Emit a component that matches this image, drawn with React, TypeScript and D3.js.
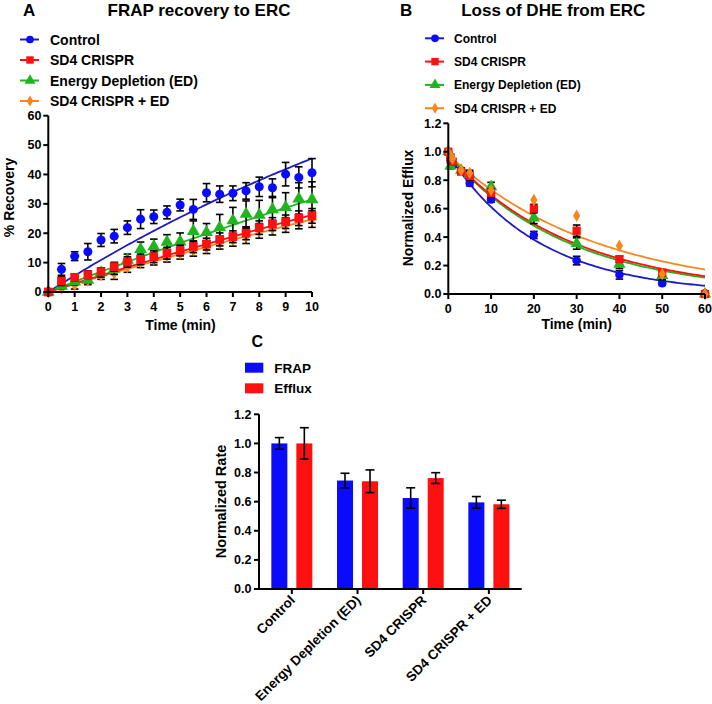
import React from "react";
import * as d3 from "d3";

// ---------- Panel A data ----------
const timesA = [0, 0.5, 1, 1.5, 2, 2.5, 3, 3.5, 4, 4.5, 5, 5.5, 6, 6.5, 7, 7.5, 8, 8.5, 9, 9.5, 10];
const controlA = [0, 7.7, 12.2, 13.7, 17.7, 19.0, 21.9, 24.8, 25.6, 27.1, 29.6, 28.1, 33.8, 33.3, 33.6, 34.4, 35.8, 35.5, 40.1, 39.0, 40.6];
const controlAErr = [0, 2.0, 1.5, 2.8, 2.2, 2.3, 2.3, 3.2, 2.3, 2.2, 2.0, 3.4, 3.1, 2.8, 2.5, 2.8, 3.3, 3.0, 4.0, 3.6, 4.8];
const sd4A = [0, 3.7, 5.0, 5.9, 6.9, 8.6, 10.2, 11.1, 12.0, 13.2, 14.1, 15.4, 16.3, 17.9, 18.8, 20.0, 21.9, 23.1, 23.9, 25.1, 25.9];
const sd4AErr = [0, 1.5, 1.2, 1.3, 1.2, 1.5, 1.8, 1.8, 2.0, 2.0, 1.8, 2.0, 2.0, 2.2, 2.0, 2.2, 2.3, 2.2, 2.3, 2.5, 2.5];
const edA = [0, 2.0, 3.5, 4.1, 6.6, 7.8, 10.9, 14.5, 15.5, 17.0, 17.1, 20.7, 20.3, 21.9, 24.3, 26.5, 26.2, 28.1, 28.8, 31.7, 31.5];
const edAErr = [0, 1.0, 1.2, 1.0, 1.5, 1.8, 2.0, 2.5, 2.5, 2.5, 3.0, 3.5, 3.0, 4.5, 4.5, 4.5, 5.0, 4.0, 5.0, 5.5, 6.0];
const sd4edA = [0, 1.3, 2.5, 4.0, 5.8, 6.5, 8.5, 10.3, 11.2, 12.2, 13.2, 14.4, 15.3, 16.8, 17.8, 19.0, 20.8, 21.9, 22.8, 24.0, 24.8];
const sd4edAErr = [0, 1.2, 1.5, 1.5, 1.5, 2.2, 1.8, 2.0, 2.0, 2.0, 2.0, 2.2, 2.2, 2.2, 2.2, 2.5, 2.5, 2.5, 2.5, 2.5, 2.8];
// one-phase association fit parameters [Ymax, k]
const fitA = { control: [120, 0.0476], sd4: [150, 0.0192], ed: [150, 0.02357], sd4ed: [150, 0.018] };
const xTicksA = [0, 1, 2, 3, 4, 5, 6, 7, 8, 9, 10];
const yTicksA = [0, 10, 20, 30, 40, 50, 60];

// ---------- Panel B data ----------
const timesB = [0, 0.5, 1, 3, 5, 10, 20, 30, 40, 50, 60];
const controlB = [1.0, 0.95, 0.91, 0.87, 0.78, 0.665, 0.415, 0.235, 0.135, 0.075, 0.005];
const controlBErr = [0, 0.02, 0.02, 0.015, 0.02, 0.02, 0.025, 0.03, 0.03, 0.015, 0];
const sd4B = [1.0, 0.96, 0.93, 0.86, 0.83, 0.71, 0.60, 0.445, 0.245, 0.15, 0.0];
const sd4BErr = [0, 0.02, 0.02, 0.015, 0.03, 0.03, 0.03, 0.04, 0.02, 0.02, 0];
const edB = [1.0, 0.90, 0.93, 0.87, 0.84, 0.755, 0.535, 0.355, 0.21, 0.13, 0.0];
const edBErr = [0, 0.02, 0.02, 0.015, 0.03, 0.03, 0.04, 0.04, 0.03, 0.03, 0];
const sd4edB = [1.0, 0.97, 0.95, 0.87, 0.85, 0.73, 0.66, 0.55, 0.34, 0.14, 0.0];
// one-phase decay fit parameters [Y0, k]
const fitB = { control: [0.98, 0.0471], sd4: [0.98, 0.0343], ed: [0.98, 0.0357], sd4ed: [0.98, 0.029] };
const xTicksB = [0, 10, 20, 30, 40, 50, 60];
const yTicksB = [0, 0.2, 0.4, 0.6, 0.8, 1.0, 1.2];

// ---------- Panel C data ----------
const categoriesC = ["Control", "Energy Depletion (ED)", "SD4 CRISPR", "SD4 CRISPR + ED"];
const frapC = [1.0, 0.745, 0.625, 0.595];
const frapCErr = [0.04, 0.05, 0.07, 0.04];
const effluxC = [1.0, 0.74, 0.762, 0.582];
const effluxCErr = [0.108, 0.078, 0.037, 0.028];
const yTicksC = [0, 0.2, 0.4, 0.6, 0.8, 1.0, 1.2];

const seriesNames = ["Control", "SD4 CRISPR", "Energy Depletion (ED)", "SD4 CRISPR + ED"];

const FONT = "'Liberation Sans', Arial, sans-serif";
const BLUE = "#0a0aff";
const BLUE_LINE = "#1c1cc4";
const RED = "#ff1010";
const GREEN = "#1fb51f";
const ORANGE = "#f7861c";

const symCircle = d3.symbol().type(d3.symbolCircle).size(64)()!;
const symSquare = d3.symbol().type(d3.symbolSquare).size(76)()!;
const symTriangle = d3.symbol().type(d3.symbolTriangle).size(72)()!;
const symDiamond = d3.symbol().type(d3.symbolDiamond).size(50)()!;

const styles = [
  { color: BLUE, line: BLUE_LINE, sym: symCircle },
  { color: RED, line: RED, sym: symSquare },
  { color: GREEN, line: GREEN, sym: symTriangle },
  { color: ORANGE, line: ORANGE, sym: symDiamond },
];

function ErrBar({ x, y0, y1, cap }: { x: number; y0: number; y1: number; cap: number }) {
  return (
    <g stroke="#000" strokeWidth={1.6}>
      <line x1={x} x2={x} y1={y0} y2={y1} />
      <line x1={x - cap} x2={x + cap} y1={y0} y2={y0} />
      <line x1={x - cap} x2={x + cap} y1={y1} y2={y1} />
    </g>
  );
}

function Legend({ x, y, dy, fontSize, textX }: { x: number; y: number; dy: number; fontSize: number; textX: number }) {
  return (
    <g>
      {seriesNames.map((n, i) => (
        <g key={n} transform={`translate(0,${y + i * dy})`}>
          <line x1={x - 10} x2={x + 9} y1={0} y2={0} stroke={styles[i].line} strokeWidth={2} />
          <path d={styles[i].sym} transform={`translate(${x},0) scale(0.85)`} fill={styles[i].color} />
          <text x={textX} y={fontSize * 0.36} fontSize={fontSize} fontWeight="bold" fontFamily={FONT}>{n}</text>
        </g>
      ))}
    </g>
  );
}

export default function App() {
  // Panel A scales
  const xA = d3.scaleLinear().domain([0, 10]).range([48.3, 312]);
  const yA = d3.scaleLinear().domain([0, 60]).range([292, 115.7]);
  const dataA = [
    { v: controlA, e: controlAErr, fit: fitA.control, s: styles[0] },
    { v: sd4edA, e: sd4edAErr, fit: fitA.sd4ed, s: styles[3] },
    { v: edA, e: edAErr, fit: fitA.ed, s: styles[2] },
    { v: sd4A, e: sd4AErr, fit: fitA.sd4, s: styles[1] },
  ];
  const fineA = d3.range(0, 10.001, 0.1);
  const lineA = d3.line<number>().x((t) => xA(t));

  // Panel B scales
  const xB = d3.scaleLinear().domain([0, 60]).range([448.3, 705]);
  const yB = d3.scaleLinear().domain([0, 1.2]).range([294, 123.3]);
  const dataB = [
    { v: controlB, e: controlBErr, fit: fitB.control, s: styles[0] },
    { v: edB, e: edBErr, fit: fitB.ed, s: styles[2] },
    { v: sd4B, e: sd4BErr, fit: fitB.sd4, s: styles[1] },
    { v: sd4edB, e: null as number[] | null, fit: fitB.sd4ed, s: styles[3] },
  ];
  const fineB = d3.range(0, 60.001, 0.5);

  // Panel C scales
  const xC = d3.scaleBand<string>().domain(categoriesC).range([259, 521.7]);
  const yC = d3.scaleLinear().domain([0, 1.2]).range([589, 414.3]);
  const barW = 16;
  const off = 12.5;

  const tickFont = { fontSize: 12.5, fontWeight: "bold" as const, fontFamily: FONT };

  return (
    <svg width={712} height={704} style={{ position: "absolute", left: 0, top: 0, background: "#fff" }}>
      <rect width={712} height={704} fill="#fff" />

      {/* ================= Panel A ================= */}
      <text x={23} y={15.5} fontSize={17} fontWeight="bold" fontFamily={FONT}>A</text>
      <text x={199} y={15.5} fontSize={17} fontWeight="bold" fontFamily={FONT} textAnchor="middle">FRAP recovery to ERC</text>
      <Legend x={30} y={39.5} dy={20.5} fontSize={14} textX={50} />

      {/* fits */}
      {dataA.map((d, i) => (
        <path key={"fa" + i} d={lineA.y((t) => yA(d.fit[0] * (1 - Math.exp(-d.fit[1] * t))))(fineA)!} fill="none" stroke={d.s.line} strokeWidth={1.8} />
      ))}
      {/* error bars + points */}
      {dataA.map((d, i) => (
        <g key={"pa" + i}>
          {timesA.map((t, j) => d.e[j] > 0 ? (
            <ErrBar key={j} x={xA(t)} y0={yA(d.v[j] + d.e[j])} y1={yA(d.v[j] - d.e[j])} cap={3.8} />
          ) : null)}
          {timesA.map((t, j) => (
            <path key={"m" + j} d={d.s.sym} transform={`translate(${xA(t)},${yA(d.v[j])})`} fill={d.s.color} />
          ))}
        </g>
      ))}
      {/* axes */}
      <g stroke="#000" strokeWidth={2}>
        <line x1={xA(0)} x2={xA(0)} y1={yA(60)} y2={yA(0)} />
        <line x1={xA(0)} x2={xA(10)} y1={yA(0)} y2={yA(0)} />
        {yTicksA.map((t) => <line key={t} x1={xA(0) - 5} x2={xA(0)} y1={yA(t)} y2={yA(t)} />)}
        {xTicksA.map((t) => <line key={t} x1={xA(t)} x2={xA(t)} y1={yA(0)} y2={yA(0) + 5} />)}
      </g>
      {yTicksA.map((t) => (
        <text key={t} x={41.5} y={yA(t) + 4.4} textAnchor="end" {...tickFont}>{t}</text>
      ))}
      {xTicksA.map((t) => (
        <text key={t} x={xA(t)} y={310.5} textAnchor="middle" {...tickFont}>{t}</text>
      ))}
      <text x={180.5} y={330} textAnchor="middle" fontSize={14} fontWeight="bold" fontFamily={FONT}>Time (min)</text>
      <text transform={`translate(13.5,197.5) rotate(-90)`} textAnchor="middle" fontSize={14} fontWeight="bold" fontFamily={FONT}>% Recovery</text>

      {/* ================= Panel B ================= */}
      <text x={400} y={15.5} fontSize={17} fontWeight="bold" fontFamily={FONT}>B</text>
      <text x={553.3} y={15.5} fontSize={17} fontWeight="bold" fontFamily={FONT} textAnchor="middle">Loss of DHE from ERC</text>
      <Legend x={435} y={38.3} dy={23.3} fontSize={12} textX={454} />

      {dataB.map((d, i) => (
        <path key={"fb" + i} d={d3.line<number>().x((t) => xB(t)).y((t) => yB(d.fit[0] * Math.exp(-d.fit[1] * t)))(fineB)!} fill="none" stroke={d.s.line} strokeWidth={1.8} />
      ))}
      {dataB.map((d, i) => (
        <g key={"pb" + i}>
          {d.e && timesB.map((t, j) => d.e![j] > 0 ? (
            <ErrBar key={j} x={xB(t)} y0={yB(d.v[j] + d.e![j])} y1={yB(d.v[j] - d.e![j])} cap={3.8} />
          ) : null)}
          {timesB.map((t, j) => (
            <path key={"m" + j} d={d.s.sym} transform={`translate(${xB(t)},${yB(d.v[j])}) scale(0.95)`} fill={d.s.color} />
          ))}
        </g>
      ))}
      <g stroke="#000" strokeWidth={2}>
        <line x1={xB(0)} x2={xB(0)} y1={yB(1.2)} y2={yB(0)} />
        <line x1={xB(0)} x2={xB(60)} y1={yB(0)} y2={yB(0)} />
        {yTicksB.map((t) => <line key={t} x1={xB(0) - 5} x2={xB(0)} y1={yB(t)} y2={yB(t)} />)}
        {xTicksB.map((t) => <line key={t} x1={xB(t)} x2={xB(t)} y1={yB(0)} y2={yB(0) + 5} />)}
      </g>
      {yTicksB.map((t) => (
        <text key={t} x={441.5} y={yB(t) + 4.4} textAnchor="end" {...tickFont}>{t.toFixed(1)}</text>
      ))}
      {xTicksB.map((t) => (
        <text key={t} x={xB(t)} y={313} textAnchor="middle" {...tickFont}>{t}</text>
      ))}
      <text x={576.7} y={329} textAnchor="middle" fontSize={14} fontWeight="bold" fontFamily={FONT}>Time (min)</text>
      <text transform={`translate(412.5,208) rotate(-90)`} textAnchor="middle" fontSize={13.8} fontWeight="bold" fontFamily={FONT}>Normalized Efflux</text>

      {/* ================= Panel C ================= */}
      <text x={251.5} y={347} fontSize={16} fontWeight="bold" fontFamily={FONT}>C</text>
      <rect x={245} y={362.7} width={18.3} height={10} fill={BLUE} />
      <text x={274.3} y={372.7} fontSize={13.5} fontWeight="bold" fontFamily={FONT}>FRAP</text>
      <rect x={245} y={383.3} width={18.3} height={10} fill={RED} />
      <text x={274.3} y={392.7} fontSize={13.5} fontWeight="bold" fontFamily={FONT}>Efflux</text>

      {categoriesC.map((c, i) => {
        const cx = xC(c)! + xC.bandwidth() / 2;
        return (
          <g key={c}>
            <rect x={cx - off - barW / 2} y={yC(frapC[i])} width={barW} height={yC(0) - yC(frapC[i])} fill={BLUE} />
            <rect x={cx + off - barW / 2} y={yC(effluxC[i])} width={barW} height={yC(0) - yC(effluxC[i])} fill={RED} />
            <ErrBar x={cx - off} y0={yC(frapC[i] + frapCErr[i])} y1={yC(frapC[i] - frapCErr[i])} cap={4.5} />
            <ErrBar x={cx + off} y0={yC(effluxC[i] + effluxCErr[i])} y1={yC(effluxC[i] - effluxCErr[i])} cap={4.5} />
          </g>
        );
      })}
      <g stroke="#000" strokeWidth={2}>
        <line x1={259} x2={259} y1={yC(1.2)} y2={yC(0)} />
        <line x1={259} x2={521.7} y1={yC(0)} y2={yC(0)} />
        {yTicksC.map((t) => <line key={t} x1={254} x2={259} y1={yC(t)} y2={yC(t)} />)}
        {categoriesC.map((c) => {
          const cx = xC(c)! + xC.bandwidth() / 2;
          return <line key={c} x1={cx} x2={cx} y1={yC(0)} y2={yC(0) + 5} />;
        })}
      </g>
      {yTicksC.map((t) => (
        <text key={t} x={251.5} y={yC(t) + 4.4} textAnchor="end" {...tickFont}>{t.toFixed(1)}</text>
      ))}
      {categoriesC.map((c) => {
        const cx = xC(c)! + xC.bandwidth() / 2;
        return (
          <text key={c} transform={`translate(${cx + 4},${601}) rotate(-45)`} textAnchor="end" fontSize={13.5} fontWeight="bold" fontFamily={FONT}>{c}</text>
        );
      })}
      <text transform={`translate(226,501.5) rotate(-90)`} textAnchor="middle" fontSize={14.5} fontWeight="bold" fontFamily={FONT}>Normalized Rate</text>
    </svg>
  );
}
